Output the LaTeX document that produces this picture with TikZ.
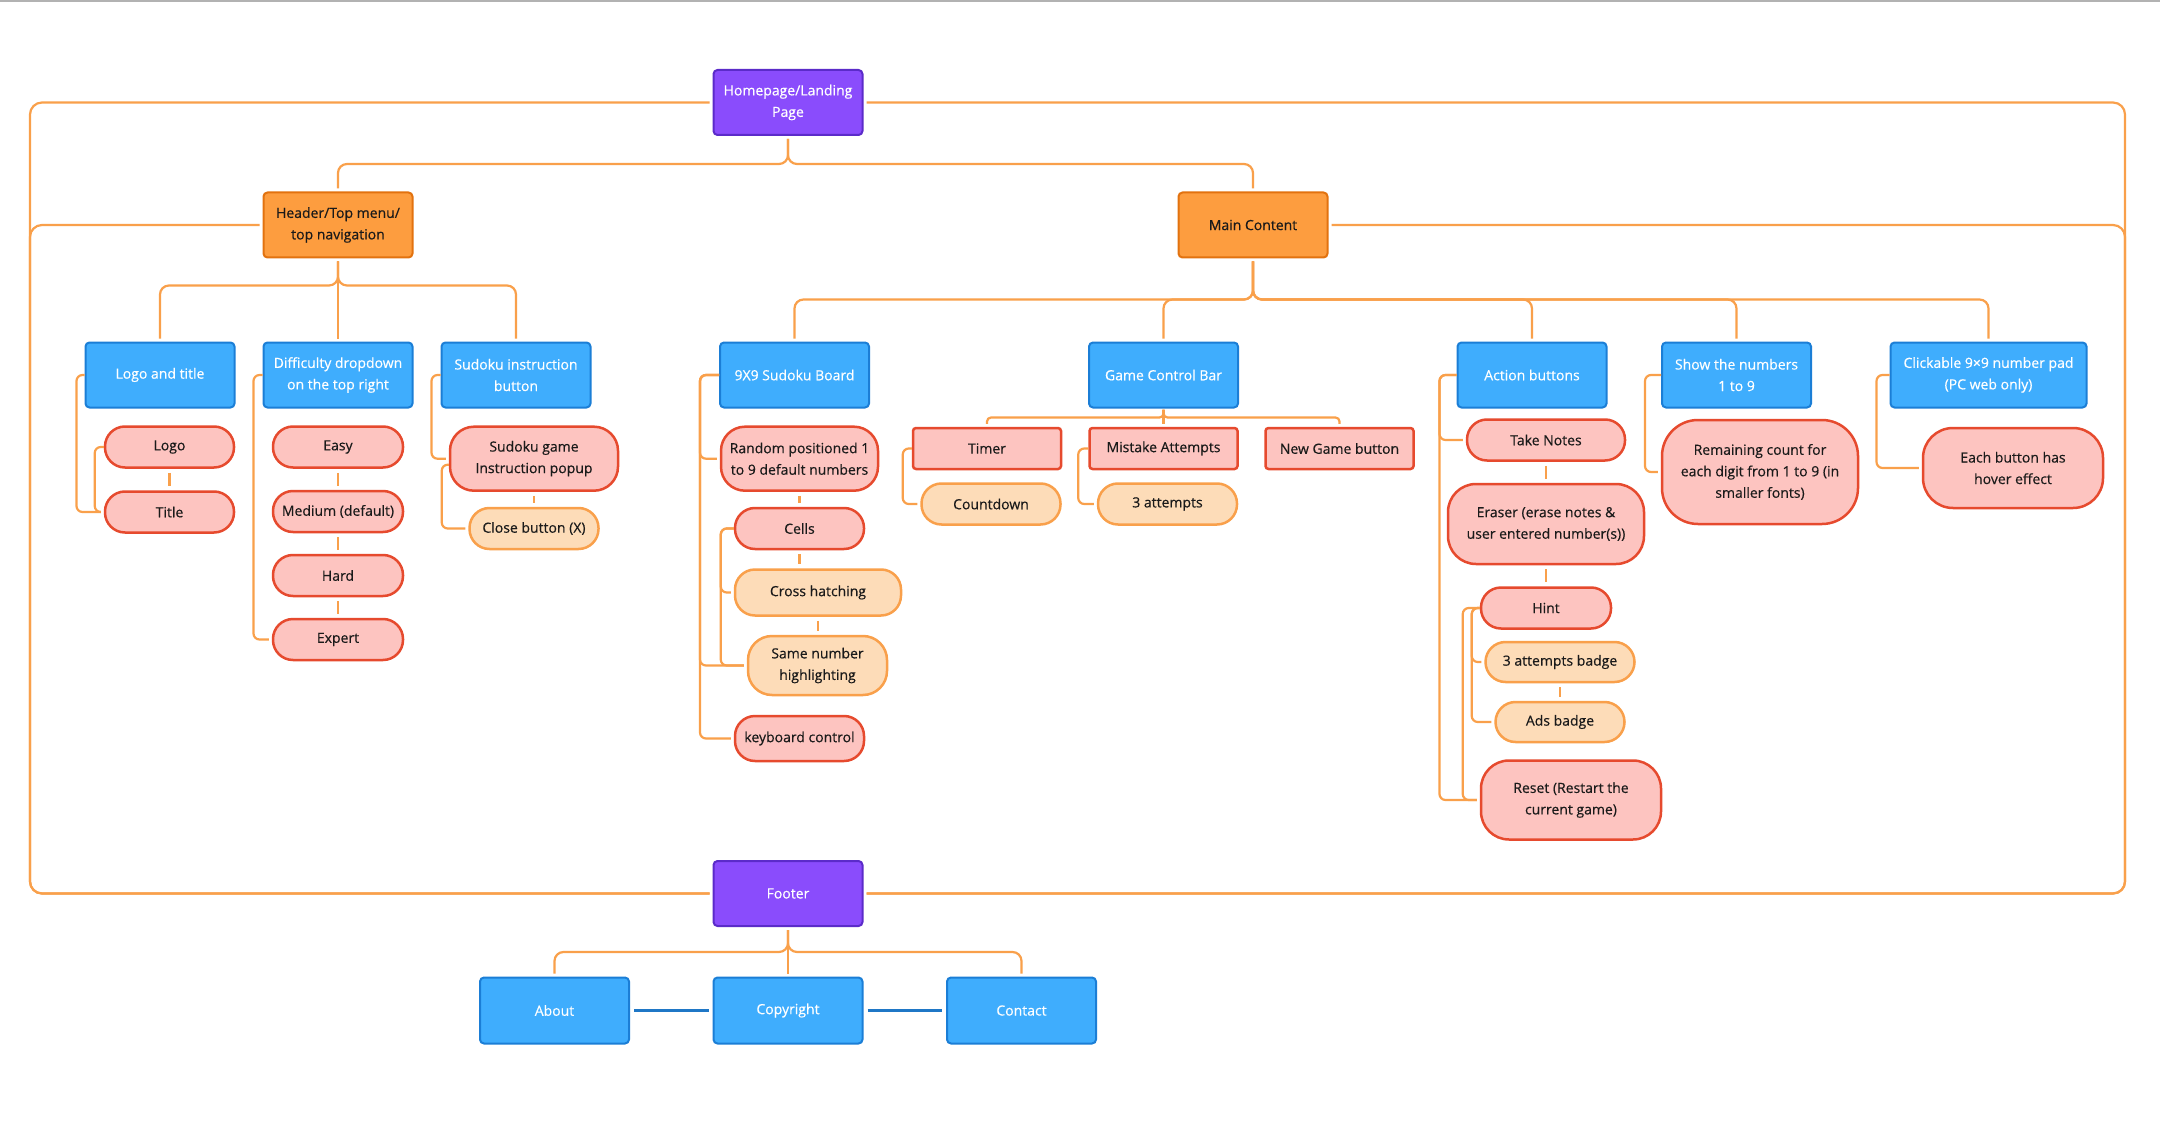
\documentclass[tikz,border=0pt]{standalone}
\usepackage{fontspec}
\setmainfont{Open Sans}[UprightFeatures={FakeBold=0.4}]
\definecolor{purf}{HTML}{8A4CFC}
\definecolor{purb}{HTML}{5B2BC9}
\definecolor{orf}{HTML}{FD9D3F}
\definecolor{orb}{HTML}{E2720F}
\definecolor{bluf}{HTML}{3FADFD}
\definecolor{blub}{HTML}{1B7ED6}
\definecolor{pinkf}{HTML}{FDC4C0}
\definecolor{pinkb}{HTML}{E64A2E}
\definecolor{peachf}{HTML}{FDDCB8}
\definecolor{peachb}{HTML}{F9A04B}
\definecolor{connc}{HTML}{F9A04B}
\definecolor{linkc}{HTML}{1F77C6}
\definecolor{txt}{HTML}{1A1A1A}
\begin{document}
\begin{tikzpicture}[x=1pt,y=-1pt,
  every node/.style={inner sep=0pt, align=center, font=\fontsize{14}{21.5}\selectfont},
  box/.style={draw, rounded corners=4pt, line width=2pt, minimum width=149pt, minimum height=65pt},
  purplebox/.style={box, fill=purf, draw=purb, text=white},
  orangebox/.style={box, fill=orf, draw=orb, text=txt},
  bluebox/.style={box, fill=bluf, draw=blub, text=white},
  pill/.style={draw=pinkb, fill=pinkf, line width=2.5pt, rounded corners=20pt, text=txt, minimum width=129pt, minimum height=41pt},
  peach/.style={pill, draw=peachb, fill=peachf},
  redrect/.style={pill, rounded corners=3pt, minimum width=148pt},
  conn/.style={draw=connc, line width=2.2pt, rounded corners=9pt, shorten <=3pt, shorten >=3pt},
  side/.style={draw=connc, line width=2.2pt, rounded corners=6pt, shorten >=3pt},
  tick/.style={draw=connc, line width=2.2pt, shorten <=4pt, shorten >=4pt},
  blink/.style={draw=linkc, line width=2.5pt, shorten <=4pt, shorten >=4pt},
]
\fill[white] (0,0) rectangle (2160,1123);
\useasboundingbox (0,0) rectangle (2160,1123);
\draw[line width=2pt, draw=black!30] (0,1) -- (2160,1);

\coordinate (leftrail) at (30,500);
\coordinate (rightrail) at (2125,500);

% level 0-1
\node[purplebox] (home) at (788,102.5) {Homepage/Landing\\Page};
\node[orangebox] (header) at (338,225) {Header/Top menu/\\top navigation};
\node[orangebox] (main) at (1253,225) {Main Content};
\node[purplebox] (footer) at (788,893.5) {Footer};

% blue row
\node[bluebox] (logotitle) at (160,375) {Logo and title};
\node[bluebox] (diff) at (338,375) {Difficulty dropdown\\on the top right};
\node[bluebox] (instr) at (516,375) {Sudoku instruction\\button};
\node[bluebox] (board) at (794.5,375) {9X9 Sudoku Board};
\node[bluebox] (gcb) at (1163.5,375) {Game Control Bar};
\node[bluebox] (action) at (1532,375) {Action buttons};
\node[bluebox] (shownum) at (1736.5,375) {Show the numbers\\1 to 9};
\node[bluebox, minimum width=196pt] (numpad) at (1988.5,375) {Clickable 9×9 number pad\\(PC web only)};

% header children
\node[pill] (logo) at (169.5,447) {Logo};
\node[pill] (title) at (169.5,512) {Title};
\node[pill, minimum width=130pt] (easy) at (338,447) {Easy};
\node[pill, minimum width=130pt] (medium) at (338,511.5) {Medium (default)};
\node[pill, minimum width=130pt] (hard) at (338,575.5) {Hard};
\node[pill, minimum width=130pt] (expert) at (338,639.5) {Expert};
\node[pill, minimum width=168pt, minimum height=64pt, rounded corners=24pt] (popup) at (534,458.7) {Sudoku game\\Instruction popup};
\node[peach] (close) at (534,528.5) {Close button (X)};

% board children
\node[pill, minimum width=157pt, minimum height=64pt, rounded corners=24pt] (random) at (799.5,458.7) {Random positioned 1\\to 9 default numbers};
\node[pill] (cells) at (799.5,528.5) {Cells};
\node[peach, minimum width=166pt, minimum height=46pt] (cross) at (818,592.5) {Cross hatching};
\node[peach, minimum width=139pt, minimum height=59pt, rounded corners=24pt] (same) at (817.5,665.5) {Same number\\highlighting};
\node[pill, minimum height=45pt] (keyboard) at (799.5,738.5) {keyboard control};

% game control bar children
\node[redrect] (timer) at (987,448.5) {Timer};
\node[redrect] (mistake) at (1163.5,448.5) {Mistake Attempts};
\node[redrect] (newgame) at (1339.5,448.5) {New Game button};
\node[peach, minimum width=139pt] (countdown) at (991,504) {Countdown};
\node[peach, minimum width=139pt] (attempts) at (1167.5,504) {3 attempts};

% action children
\node[pill, minimum width=158pt] (notes) at (1546,440) {Take Notes};
\node[pill, minimum width=196pt, minimum height=80pt, rounded corners=28pt] (eraser) at (1546,524) {Eraser (erase notes \&\\user entered number(s))};
\node[pill, minimum width=130pt] (hint) at (1546,608) {Hint};
\node[peach, minimum width=149pt, minimum height=40pt] (badge3) at (1560,662) {3 attempts badge};
\node[peach, minimum width=129pt, minimum height=40pt] (ads) at (1560,722) {Ads badge};
\node[pill, minimum width=180pt, minimum height=79pt, rounded corners=28pt] (reset) at (1571,800) {Reset (Restart the\\current game)};

% other children
\node[pill, minimum width=196pt, minimum height=104pt, rounded corners=36pt] (remaining) at (1760,472) {Remaining count for\\each digit from 1 to 9 (in\\smaller fonts)};
\node[pill, minimum width=180pt, minimum height=80pt, rounded corners=30pt] (hover) at (2013,468) {Each button has\\hover effect};

% footer children
\node[bluebox, minimum height=66pt] (about) at (554.5,1010.5) {About};
\node[bluebox, minimum height=66pt] (copyright) at (788,1010.5) {Copyright};
\node[bluebox, minimum height=66pt] (contact) at (1021.5,1010.5) {Contact};

% ---------- connectors ----------
\draw[conn] (home.south) -- ++(0,28) -| (header.north);
\draw[conn] (home.south) -- ++(0,28) -| (main.north);
\draw[conn, rounded corners=12pt] (home.west) -| (leftrail) |- (footer.west);
\draw[conn, rounded corners=12pt] (home.east) -| (rightrail) |- (footer.east);
\draw[conn, rounded corners=12pt] (header.west) -| (leftrail) |- (footer.west);
\draw[conn, rounded corners=12pt] (main.east) -| (rightrail) |- (footer.east);

\draw[conn] (header.south) -- ++(0,27) -| (logotitle.north);
\draw[conn] (header.south) -- (diff.north);
\draw[conn] (header.south) -- ++(0,27) -| (instr.north);

\foreach \t in {board,gcb,action,shownum,numpad}
  \draw[conn] (main.south) -- ++(0,41) -| (\t.north);

\draw[conn] (footer.south) -- ++(0,25) -| (about.north);
\draw[conn] (footer.south) -- (copyright.north);
\draw[conn] (footer.south) -- ++(0,25) -| (contact.north);

\draw[conn, rounded corners=4pt, shorten <=1pt] (gcb.south) -- ++(0,9) -| (timer.north);
\draw[conn, rounded corners=4pt, shorten <=1pt] (gcb.south) -- ++(0,9) -| (newgame.north);
\draw[conn, shorten <=1pt] (gcb.south) -- (mistake.north);

% side brackets
\draw[side] (logotitle.west) -- ++(-8,0) |- (title.west);
\draw[side] (logo.west) -- ++(-9,0) |- (title.west);
\draw[side] (diff.west) -- ++(-9,0) |- (expert.west);
\draw[side] (instr.west) -- ++(-9,0) |- (popup.west);
\draw[side] ([yshift=-6pt]popup.west) -- ++(-7,0) |- (close.west);
\draw[side] (board.west) -- ++(-19,0) |- (random.west);
\draw[side] (board.west) -- ++(-19,0) |- (same.west);
\draw[side] (board.west) -- ++(-19,0) |- (keyboard.west);
\draw[side] (cells.west) -- ++(-13,0) |- (cross.west);
\draw[side] (cells.west) -- ++(-13,0) |- (same.west);
\draw[side] (timer.west) -- ++(-9,0) |- (countdown.west);
\draw[side] (mistake.west) -- ++(-10,0) |- (attempts.west);
\draw[side] (action.west) -- ++(-17,0) |- (notes.west);
\draw[side] (action.west) -- ++(-17,0) |- (reset.west);
\draw[side] (hint.west) -- ++(-17,0) |- (reset.west);
\draw[side] (hint.west) -- ++(-8,0) |- (badge3.west);
\draw[side] (hint.west) -- ++(-8,0) |- (ads.west);
\draw[side] (shownum.west) -- ++(-16,0) |- (remaining.west);
\draw[side] (numpad.west) -- ++(-13,0) |- (hover.west);

% short vertical ticks
\draw[tick] (logo.south) -- (title.north);
\draw[tick] (easy.south) -- (medium.north);
\draw[tick] (medium.south) -- (hard.north);
\draw[tick] (hard.south) -- (expert.north);
\draw[tick] (popup.south) -- (close.north);
\draw[tick] (random.south) -- (cells.north);
\draw[tick] (cells.south) -- (cells.south |- cross.north);
\draw[tick] (cross.south) -- (cross.south |- same.north);
\draw[tick] (notes.south) -- (eraser.north);
\draw[tick] (eraser.south) -- (hint.north);
\draw[tick] (badge3.south) -- (ads.north);

% footer links
\draw[blink] (about.east) -- (copyright.west);
\draw[blink] (copyright.east) -- (contact.west);
\end{tikzpicture}
\end{document}
